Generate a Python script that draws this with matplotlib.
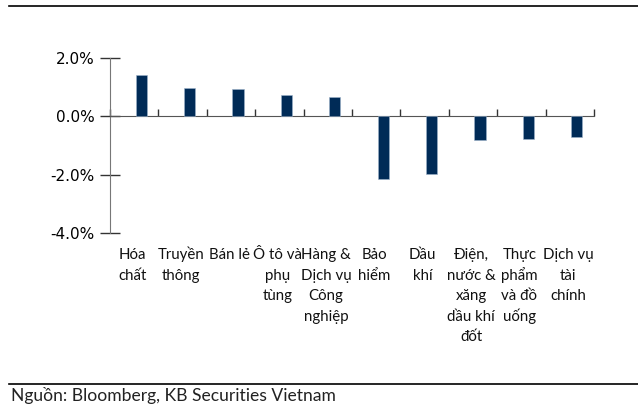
import numpy as np
import matplotlib.pyplot as plt
from matplotlib import transforms
from matplotlib.lines import Line2D

# sectors (labels wrapped as in the source chart) and weekly return, %
sectors = ['Hóa\nchất', 'Truyền\nthông', 'Bán lẻ', 'Ô tô và\nphụ\ntùng',
           'Hàng &\nDịch vụ\nCông\nnghiệp', 'Bảo\nhiểm', 'Dầu\nkhí',
           'Điện,\nnước &\nxăng\ndầu khí\nđốt', 'Thực\nphẩm\nvà đồ\nuống',
           'Dịch vụ\ntài\nchính']
returns = [1.41, 0.98, 0.94, 0.72, 0.68, -2.15, -1.98, -0.82, -0.78, -0.70]
yticks = [2.0, 0.0, -2.0, -4.0]
source = 'Nguồn: Bloomberg, KB Securities Vietnam'

label_font = ['Lato', 'Noto Sans', 'DejaVu Sans']

fig = plt.figure(figsize=(6.38, 4.07), dpi=100)
ax = fig.add_axes([0.1724, 0.4283, 0.7586, 0.4285])

x = np.arange(len(returns))
ax.bar(x + 0.145, returns, width=0.23, color='#002b57',
       edgecolor='#9db3cc', linewidth=0.4, zorder=3)

ax.set_xlim(-0.5, len(returns) - 0.5)
ax.set_ylim(-4, 2)
ax.set_yticks(yticks)
ax.set_yticklabels([f'{v:.1f}%' for v in yticks], fontsize=11)
ax.tick_params(axis='y', direction='inout', length=14, width=1,
               color='#333333', pad=4)

# x axis sits on the zero line, ticks between categories pointing up
ax.spines['bottom'].set_position(('data', 0))
ax.spines['bottom'].set_color('#555555')
ax.spines['left'].set_color('#777777')
ax.spines['top'].set_visible(False)
ax.spines['right'].set_visible(False)
ax.set_xticks(np.arange(len(returns) + 1) - 0.5)
ax.set_xticklabels([])
ax.tick_params(axis='x', direction='in', length=5, width=1, color='#333333')

# category labels below the plot area, one text per wrapped line so that
# accents do not shift the rows
trans = transforms.blended_transform_factory(ax.transData, fig.transFigure)
first_baseline = 259   # px from top
line_step = 20.6       # px
for i, lab in enumerate(sectors):
    for k, line in enumerate(lab.split('\n')):
        ax.text(i - 0.04, 1 - (first_baseline + k * line_step) / 407, line,
                transform=trans, ha='center', va='baseline', fontsize=10.8,
                family=label_font, color='#111111')

# header / footer rules and source note
fig.add_artist(Line2D([9 / 638, 1], [1 - 6 / 407] * 2, color='black',
                      lw=1.2, transform=fig.transFigure))
fig.add_artist(Line2D([9 / 638, 1], [1 - 384 / 407] * 2, color='black',
                      lw=1.2, transform=fig.transFigure))
fig.text(11 / 638, 1 - 396 / 407, source, ha='left', va='center',
         fontsize=12.6, family=label_font, color='#222222')

fig.savefig('out.png', dpi=100)
